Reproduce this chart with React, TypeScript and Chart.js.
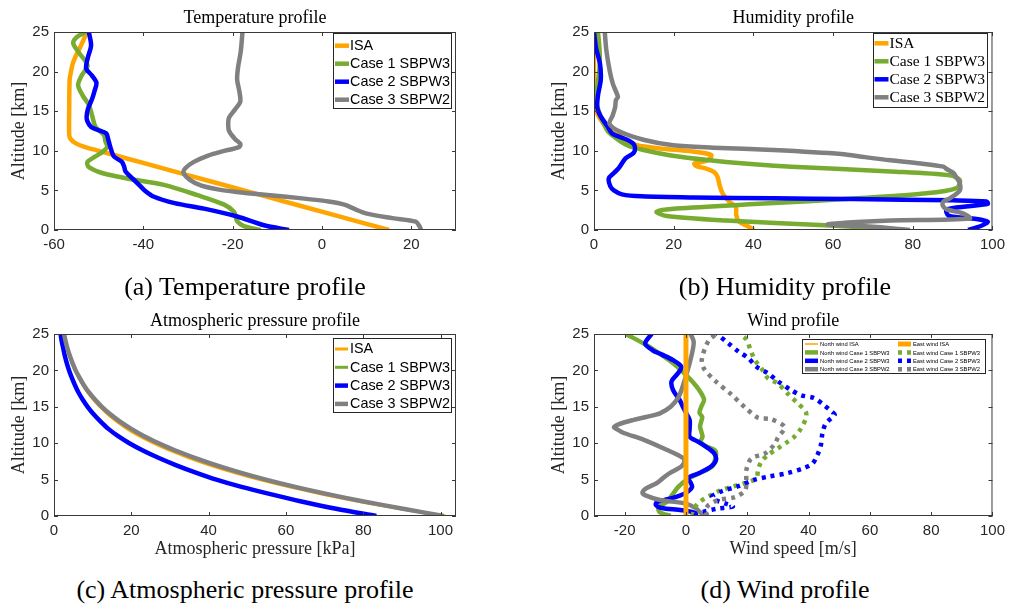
import React, { useEffect, useRef } from "react";
import { Chart, registerables } from "chart.js";

Chart.register(...registerables);

// ---------- colours / fonts ----------
const ORANGE = "#FFA500";
const GREEN = "#77AC30";
const BLUE = "#0000FF";
const GRAY = "#808080";
const AXIS_C = "#262626";
const SERIF = "'Liberation Serif', 'Times New Roman', serif";
const SANS = "'Liberation Sans', Arial, sans-serif";

// ---------- tick labels ----------
const altTicks = [0, 5, 10, 15, 20, 25];
const tempTicks = [-60, -40, -20, 0, 20];
const humTicks = [0, 20, 40, 60, 80, 100];
const presTicks = [0, 20, 40, 60, 80, 100];
const windTicks = [-20, 0, 20, 40, 60, 80, 100];

// ---------- (a) temperature [°C] vs altitude [km] ----------
const tempAltISA = [0, 2, 4, 6, 8, 9, 10, 10.5, 11, 11.5, 12, 15, 19, 20, 21, 22, 23, 24, 25];
const tempISA = [15, 2, -11, -24, -37, -43.5, -50, -53.2, -55.3, -56.3, -56.6, -56.6, -56.5, -56.2, -55.8, -55.1, -54.2, -53.4, -52.6];
const tempAlt1 = [0, 0.5, 1.1, 1.7, 2.3, 3.2, 4.4, 5.7, 6.5, 7.0, 7.4, 8.0, 8.6, 9.2, 9.8, 10.5, 11.2, 12.0, 13.0, 14.3, 15.8, 17.0, 18.3, 19.5, 20.8, 22.3, 23.6, 24.4, 25];
const temp1 = [-13.7, -17.5, -19.0, -19.3, -19.7, -21.9, -27.9, -35.4, -43.6, -48.0, -50.3, -52.3, -52.5, -51.0, -49.3, -48.1, -48.5, -48.8, -50.7, -51.4, -52.2, -53.6, -54.6, -53.8, -52.5, -54.3, -55.7, -54.8, -52.9];
const tempAlt2 = [0, 0.6, 1.7, 2.7, 3.4, 4.2, 5.0, 5.9, 6.8, 7.4, 8.0, 8.6, 9.3, 10.3, 11.3, 12.2, 12.6, 13.0, 13.7, 14.3, 15.3, 16.5, 17.6, 18.6, 19.5, 20.4, 21.8, 23.3, 25];
const temp2 = [-7.4, -13.0, -19.0, -26.4, -33.0, -37.6, -39.7, -41.3, -43.0, -44.0, -44.3, -44.8, -46.6, -47.3, -47.8, -48.3, -50.0, -51.7, -52.5, -52.7, -52.4, -51.5, -50.9, -50.5, -51.5, -52.8, -52.4, -51.7, -52.2];
const tempAlt3 = [0, 0.5, 1.05, 1.5, 2.1, 2.6, 3.2, 3.6, 3.9, 4.2, 4.5, 4.8, 5.1, 5.6, 6.3, 7.2, 7.8, 8.6, 9.4, 9.9, 10.5, 10.9, 11.5, 12.5, 13.5, 14.2, 15.2, 16.2, 17.5, 19.0, 20.5, 22.5, 25];
const temp3 = [22.2, 21.8, 21.0, 15.8, 9.8, 7.5, 5.0, 1.5, -3.0, -8.0, -14.0, -19.0, -23.0, -27.0, -29.5, -31.0, -30.6, -28.7, -25.5, -22.5, -18.5, -18.3, -19.5, -20.8, -21.0, -20.8, -19.5, -18.3, -18.5, -19.0, -18.8, -18.2, -17.8];

// ---------- (b) humidity [%] ----------
const humAltISA = [0, 0.5, 1.05, 1.9, 2.9, 3.6, 4.6, 5.5, 6.7, 7.3, 7.7, 8.1, 8.4, 8.7, 9.1, 9.5, 9.9, 10.3, 10.7, 11.3, 12.0, 13.0, 14.5, 15.5, 17, 25];
const humISA = [40.1, 38.5, 36.4, 35.7, 35.6, 33.9, 32.3, 31.6, 31.0, 30.2, 28.5, 25.6, 25.2, 28.0, 29.2, 29.4, 24.8, 16.5, 10.8, 8.0, 6.4, 3.1, 1.0, 0.3, 0, 0];
const humAlt1 = [0, 0.6, 1.2, 1.77, 2.3, 2.7, 3.3, 4.0, 4.6, 5.3, 6.3, 6.9, 7.4, 8.0, 8.6, 9.3, 10.1, 10.7, 11.8, 12.6, 14.7, 16.4, 20.6, 22.7, 25];
const hum1 = [78.6, 57.9, 33.1, 18.2, 15.7, 20.7, 41.4, 66.2, 82.7, 91.0, 91.8, 89.3, 74.4, 49.6, 33.1, 20.7, 12.4, 8.3, 5.0, 3.3, 1.4, 0.6, 1.4, 1.4, 1.0];
const humAlt2 = [0, 0.6, 1.05, 1.4, 1.8, 2.6, 3.0, 3.3, 3.6, 3.75, 3.9, 4.0, 4.1, 4.25, 4.5, 5.0, 5.5, 6.5, 7.2, 7.8, 9.05, 9.7, 10.3, 10.9, 11.4, 12.2, 13.0, 14.5, 15.5, 17, 19, 21, 23, 25];
const hum2 = [93.9, 97.5, 98.8, 96.0, 89.0, 88.5, 94.0, 98.8, 98.5, 90.0, 65.0, 45.0, 25.0, 12.0, 7.0, 5.0, 4.1, 3.7, 5.0, 6.2, 7.9, 9.9, 10.3, 9.9, 8.3, 4.5, 3.5, 1.5, 0.8, 1.0, 1.7, 1.5, 0.5, 0];
const humAlt3 = [0, 0.4, 0.7, 1.0, 1.2, 1.46, 2.1, 2.6, 3.1, 3.6, 4.0, 5.0, 5.9, 6.6, 7.2, 7.7, 8.0, 8.4, 8.8, 9.2, 9.6, 10.1, 10.4, 10.7, 11.4, 12.4, 13.4, 14.5, 15.5, 16.4, 16.8, 17.5, 18.5, 20.2, 22.7, 25];
const hum3 = [79.3, 70.0, 58.7, 66.0, 74.4, 94.3, 92.6, 88.5, 87.5, 87.7, 89.3, 91.8, 91.8, 91.0, 90.2, 88.5, 87.7, 82.0, 74.4, 68.0, 62.0, 45.0, 30.0, 19.9, 12.4, 6.6, 3.9, 4.7, 5.3, 5.5, 6.0, 5.5, 4.7, 3.9, 3.1, 2.7];

// ---------- (c) pressure [kPa] ----------
const presAlt = [0, 1, 2, 3, 4, 5, 6, 7, 8, 9, 10, 11, 12, 13, 14, 15, 16, 17, 18, 19, 20, 21, 22, 23, 24, 25];
const presISA = [101.3, 89.6, 79.0, 69.5, 60.9, 53.2, 46.4, 40.3, 34.9, 30.0, 25.8, 22.1, 18.9, 16.2, 13.9, 11.9, 10.2, 8.7, 7.5, 6.4, 5.5, 4.7, 4.0, 3.4, 2.9, 2.5];
const pres1 = [100.8, 90.2, 80.0, 70.7, 62.3, 54.7, 47.9, 41.8, 36.3, 31.3, 27.0, 23.1, 19.8, 16.9, 14.4, 12.3, 10.5, 8.9, 7.6, 6.5, 5.5, 4.7, 4.0, 3.4, 2.9, 2.5];
const pres2 = [83.4, 73.0, 64.0, 56.0, 48.5, 42.0, 36.5, 31.5, 27.0, 23.0, 19.5, 16.5, 14.0, 12.0, 10.2, 8.7, 7.4, 6.3, 5.4, 4.6, 3.9, 3.3, 2.8, 2.4, 2.0, 1.7];
const pres3 = [100.8, 90.3, 80.1, 70.8, 62.4, 54.8, 48.0, 41.9, 36.4, 31.4, 27.1, 23.2, 19.9, 17.0, 14.5, 12.4, 10.6, 9.0, 7.7, 6.6, 5.6, 4.8, 4.1, 3.5, 3.0, 2.6];

// ---------- (d) wind [m/s] ----------
const windAltISA = [0, 25];
const windNorthISA = [0, 0];
const windEastISA = [0, 0];
const windAltN1 = [0, 0.5, 1.0, 1.5, 2.0, 2.9, 4.0, 5.0, 5.9, 6.8, 7.8, 8.9, 9.6, 10.2, 10.9, 11.6, 12.3, 13.0, 13.6, 14.2, 15.0, 16.0, 17.3, 18.5, 20.0, 21.0, 22.0, 23.5, 25];
const windN1 = [-5.0, -8.5, -9.0, -8.0, -6.0, -4.5, -2.5, 0.3, 4.5, 8.5, 9.5, 9.7, 6.5, 4.8, 5.4, 5.0, 4.6, 5.0, 5.3, 4.4, 5.0, 5.9, 4.3, 2.0, -1.5, -4.2, -7.5, -13.0, -19.6];
const windAltN2 = [0, 0.4, 0.8, 1.1, 1.5, 1.9, 2.3, 2.8, 3.4, 4.0, 4.6, 5.2, 5.9, 6.8, 7.7, 8.6, 9.5, 10.2, 10.9, 12.0, 13.2, 14.1, 15.0, 15.9, 17.3, 18.5, 19.6, 20.5, 21.4, 22.2, 22.8, 23.7, 25];
const windN2 = [2.5, 3.0, -1.3, -8.0, -9.8, -9.5, -6.0, -2.0, 0.8, 2.0, 1.5, 0.6, 4.4, 8.2, 9.8, 9.2, 6.6, 4.0, 1.2, 1.2, 1.2, 0.1, -1.0, -2.0, -4.2, -4.7, -2.6, -1.5, -4.2, -8.0, -11.0, -13.3, -11.2];
const windAltN3 = [0, 0.6, 1.05, 1.7, 2.2, 2.8, 3.2, 3.8, 4.5, 5.2, 5.9, 6.8, 7.5, 8.0, 9.1, 10.5, 11.4, 11.8, 12.2, 12.6, 13.2, 13.6, 14.1, 15.0, 16.2, 17.5, 18.7, 21.0, 23.0, 24.0, 25];
const windN3 = [6.0, 4.4, 3.3, 0, -8.5, -13.0, -14.2, -13.0, -9.6, -7.5, -5.3, -1.5, -0.5, -1.0, -6.3, -13.9, -20.3, -22.0, -23.5, -22.0, -17.1, -13.0, -8.5, -5.0, -2.6, -1.3, -0.4, 1.2, 2.3, 2.5, 1.5];
const windAltE1 = [0, 0.6, 1.3, 2.0, 2.7, 3.4, 4.0, 4.5, 5.2, 6.3, 7.5, 8.4, 9.3, 10.2, 10.9, 12.0, 13.4, 14.3, 15.5, 16.8, 18.2, 18.9, 20.3, 21.4, 23.0, 24.2, 25];
const windE1 = [2.0, 2.6, 3.1, 4.7, 7.4, 10.6, 14.9, 19.2, 23.0, 23.5, 24.6, 26.8, 30.0, 33.2, 35.4, 37.5, 39.1, 39.1, 36.4, 33.2, 30.0, 26.8, 24.6, 22.5, 20.9, 19.8, 17.6];
const windAltE2 = [0, 0.3, 0.6, 1.0, 1.3, 1.7, 2.2, 2.7, 3.4, 4.1, 5.0, 5.4, 5.9, 6.6, 7.2, 8.4, 9.7, 11.3, 12.7, 13.9, 14.3, 15.2, 16.2, 16.6, 17.3, 18.5, 19.6, 20.5, 21.7, 22.6, 23.7, 25];
const windE2 = [3.0, 3.5, 5.8, 10.0, 15.3, 13.0, 9.5, 8.5, 11.7, 17.1, 22.5, 26.8, 33.2, 38.6, 41.3, 42.9, 44.0, 44.5, 45.6, 48.5, 47.7, 45.1, 41.8, 37.5, 34.3, 30.0, 26.8, 23.0, 20.3, 17.1, 13.9, 10.1];
const windAltE3 = [0, 0.8, 1.5, 2.2, 2.6, 3.5, 4.7, 6.3, 7.9, 8.6, 9.9, 10.8, 12.2, 13.3, 13.5, 14.9, 16.7, 18.5, 20.3, 21.6, 24.1, 25];
const windE3 = [7.0, 6.4, 7.4, 10.6, 16.0, 19.3, 19.7, 19.7, 21.3, 25.8, 29.0, 30.0, 32.2, 27.7, 23.5, 19.3, 14.8, 9.7, 5.8, 5.2, 7.4, 10.0];

// ---------- types ----------
type Series = { label: string; alt: number[]; val: number[]; color: string; width: number; dash?: number[] };
type LegendSpec = {
  dxRight: number; dyTop: number; w: number; h: number; row0: number; rowStep: number;
  cols: number; colStep: number; sampleX: number; sampleW: number; textX: number; font: string;
};
type PanelSpec = {
  left: number; top: number; w: number; h: number;
  padLeft: number; padRight: number; padBottom: number; xHeight: number;
  title: string; titlePadTop: number; titlePadBottom: number;
  xTitle?: string; xTitlePadBottom?: number;
  xMin: number; xMax: number; xTicks: number[];
  series: Series[]; legend: LegendSpec;
};

function drawFrame(chart: any) {
  const { ctx, chartArea } = chart;
  const { left, top, right, bottom } = chartArea;
  const xs = chart.scales.x;
  const ys = chart.scales.y;
  ctx.save();
  ctx.strokeStyle = "#3a3a3a";
  ctx.lineWidth = 1;
  ctx.strokeRect(left + 0.5, top + 0.5, right - left - 1, bottom - top - 1);
  const tl = 4;
  ctx.beginPath();
  xs.ticks.forEach((t: any) => {
    const px = Math.round(xs.getPixelForValue(t.value)) + 0.5;
    ctx.moveTo(px, bottom);
    ctx.lineTo(px, bottom - tl);
    ctx.moveTo(px, top);
    ctx.lineTo(px, top + tl);
  });
  ys.ticks.forEach((t: any) => {
    const py = Math.round(ys.getPixelForValue(t.value)) + 0.5;
    ctx.moveTo(left, py);
    ctx.lineTo(left + tl, py);
    ctx.moveTo(right, py);
    ctx.lineTo(right - tl, py);
  });
  ctx.stroke();
  ctx.restore();
}

function drawLegend(chart: any, p: PanelSpec) {
  const { ctx, chartArea } = chart;
  const L = p.legend;
  const bx = Math.round(chartArea.right - L.dxRight - L.w);
  const by = Math.round(chartArea.top + L.dyTop);
  ctx.save();
  ctx.fillStyle = "#ffffff";
  ctx.fillRect(bx, by, L.w, L.h);
  ctx.strokeStyle = AXIS_C;
  ctx.lineWidth = 1;
  ctx.strokeRect(bx + 0.5, by + 0.5, L.w - 1, L.h - 1);
  const rows = Math.ceil(p.series.length / L.cols);
  p.series.forEach((s, i) => {
    const col = Math.floor(i / rows);
    const row = i % rows;
    const cy = by + L.row0 + row * L.rowStep;
    const x0 = bx + L.sampleX + col * L.colStep;
    ctx.beginPath();
    ctx.strokeStyle = s.color;
    ctx.lineWidth = s.width;
    ctx.lineCap = "butt";
    ctx.setLineDash(s.dash || []);
    ctx.moveTo(x0, cy);
    ctx.lineTo(x0 + L.sampleW, cy);
    ctx.stroke();
    ctx.setLineDash([]);
    ctx.fillStyle = "#000000";
    ctx.font = L.font;
    ctx.textAlign = "left";
    ctx.textBaseline = "middle";
    ctx.fillText(s.label, bx + L.textX + col * L.colStep, cy + 0.5);
  });
  ctx.restore();
}

function buildConfig(p: PanelSpec): any {
  const plugin = {
    id: "matlabLook",
    afterDatasetsDraw(chart: any) {
      drawFrame(chart);
    },
    afterDraw(chart: any) {
      drawLegend(chart, p);
    },
  };
  return {
    type: "scatter",
    data: {
      datasets: p.series.map((s, i) => ({
        label: s.label,
        data: s.alt.map((a, k) => ({ x: s.val[k], y: a })),
        showLine: true,
        borderColor: s.color,
        backgroundColor: s.color,
        borderWidth: s.width,
        borderDash: s.dash || [],
        borderCapStyle: "butt",
        borderJoinStyle: "round",
        pointRadius: 0,
        pointHoverRadius: 0,
        pointHitRadius: 0,
        tension: 0.3,
        clip: 0,
        order: -i,
      })),
    },
    options: {
      responsive: false,
      animation: false,
      devicePixelRatio: 1,
      events: [],
      layout: {
        autoPadding: false,
        padding: { left: p.padLeft, right: p.padRight, top: 0, bottom: p.padBottom },
      },
      plugins: {
        legend: { display: false },
        tooltip: { enabled: false },
        title: {
          display: true,
          text: p.title,
          fullSize: false,
          color: "#000000",
          font: { family: SERIF, size: 18, weight: "normal" },
          padding: { top: p.titlePadTop, bottom: p.titlePadBottom },
        },
      },
      scales: {
        x: {
          type: "linear",
          position: "bottom",
          min: p.xMin,
          max: p.xMax,
          grid: { display: false, drawTicks: false },
          border: { display: false },
          ticks: {
            padding: 6,
            color: AXIS_C,
            font: { family: SANS, size: 15 },
            maxRotation: 0,
            autoSkip: false,
            callback: (v: any) => String(v),
          },
          afterBuildTicks: (sc: any) => {
            sc.ticks = p.xTicks.map((v) => ({ value: v }));
          },
          afterFit: (sc: any) => {
            sc.height = p.xHeight;
          },
          title: p.xTitle
            ? {
                display: true,
                text: p.xTitle,
                color: AXIS_C,
                font: { family: SERIF, size: 18 },
                padding: { top: 0, bottom: p.xTitlePadBottom || 0 },
              }
            : { display: false },
        },
        y: {
          type: "linear",
          position: "left",
          min: 0,
          max: 25,
          grid: { display: false, drawTicks: false },
          border: { display: false },
          ticks: {
            padding: 5,
            color: AXIS_C,
            font: { family: SANS, size: 15 },
            autoSkip: false,
            callback: (v: any) => String(v),
          },
          afterBuildTicks: (sc: any) => {
            sc.ticks = altTicks.map((v) => ({ value: v }));
          },
          afterFit: (sc: any) => {
            sc.width = 54;
          },
          title: {
            display: true,
            text: "Altitude [km]",
            color: AXIS_C,
            font: { family: SERIF, size: 18 },
            padding: { top: 8.7, bottom: 0 },
          },
        },
      },
    },
    plugins: [plugin],
  };
}

// ---------- panels ----------
const legendTop: LegendSpec = {
  dxRight: 4, dyTop: 1, w: 119, h: 76, row0: 12.7, rowStep: 18, cols: 1, colStep: 0,
  sampleX: 2, sampleW: 14, textX: 17, font: `14.4px ${SANS}`,
};

const panelA: PanelSpec = {
  left: 0, top: 0, w: 490, h: 262, padLeft: 0, padRight: 34, padBottom: 6, xHeight: 26,
  title: "Temperature profile", titlePadTop: 7, titlePadBottom: 3.4,
  xMin: -60, xMax: 30, xTicks: tempTicks,
  series: [
    { label: "ISA", alt: tempAltISA, val: tempISA, color: ORANGE, width: 4.5 },
    { label: "Case 1 SBPW3", alt: tempAlt1, val: temp1, color: GREEN, width: 4.5 },
    { label: "Case 2 SBPW3", alt: tempAlt2, val: temp2, color: BLUE, width: 4.5 },
    { label: "Case 3 SBPW2", alt: tempAlt3, val: temp3, color: GRAY, width: 4.5 },
  ],
  legend: legendTop,
};

const panelB: PanelSpec = {
  left: 500, top: 0, w: 511, h: 262, padLeft: 40, padRight: 14, padBottom: 6, xHeight: 26,
  title: "Humidity profile", titlePadTop: 7, titlePadBottom: 3.4,
  xMin: 0, xMax: 100, xTicks: humTicks,
  series: [
    { label: "ISA", alt: humAltISA, val: humISA, color: ORANGE, width: 4.5 },
    { label: "Case 1 SBPW3", alt: humAlt1, val: hum1, color: GREEN, width: 4.5 },
    { label: "Case 2 SBPW3", alt: humAlt2, val: hum2, color: BLUE, width: 4.5 },
    { label: "Case 3 SBPW2", alt: humAlt3, val: hum3, color: GRAY, width: 4.5 },
  ],
  legend: {
    dxRight: 4, dyTop: 1, w: 115, h: 75, row0: 10.3, rowStep: 18, cols: 1, colStep: 0,
    sampleX: 1.5, sampleW: 14, textX: 16.5, font: `15.5px ${SERIF}`,
  },
};

const panelC: PanelSpec = {
  left: 0, top: 300, w: 490, h: 265, padLeft: 0, padRight: 34, padBottom: 4, xHeight: 45,
  title: "Atmospheric pressure profile", titlePadTop: 10.2, titlePadBottom: 2.2,
  xTitle: "Atmospheric pressure [kPa]", xTitlePadBottom: 1.2,
  xMin: 0, xMax: 104, xTicks: presTicks,
  series: [
    { label: "ISA", alt: presAlt, val: presISA, color: ORANGE, width: 3 },
    { label: "Case 1 SBPW3", alt: presAlt, val: pres1, color: GREEN, width: 3 },
    { label: "Case 2 SBPW3", alt: presAlt, val: pres2, color: BLUE, width: 4.5 },
    { label: "Case 3 SBPW2", alt: presAlt, val: pres3, color: GRAY, width: 4.5 },
  ],
  legend: { ...legendTop, dyTop: 4, h: 75, row0: 11, rowStep: 18.3, sampleW: 13 },
};

const panelD: PanelSpec = {
  left: 500, top: 300, w: 511, h: 265, padLeft: 40, padRight: 14, padBottom: 4, xHeight: 45,
  title: "Wind profile", titlePadTop: 10.2, titlePadBottom: 2.2,
  xTitle: "Wind speed [m/s]", xTitlePadBottom: 1.2,
  xMin: -30, xMax: 100, xTicks: windTicks,
  series: [
    { label: "North wind ISA", alt: windAltISA, val: windNorthISA, color: ORANGE, width: 1.5 },
    { label: "North wind Case 1 SBPW3", alt: windAltN1, val: windN1, color: GREEN, width: 4.5 },
    { label: "North wind Case 2 SBPW3", alt: windAltN2, val: windN2, color: BLUE, width: 4.5 },
    { label: "North wind Case 3 SBPW2", alt: windAltN3, val: windN3, color: GRAY, width: 4.5 },
    { label: "East wind ISA", alt: windAltISA, val: windEastISA, color: ORANGE, width: 5 },
    { label: "East wind Case 1 SBPW3", alt: windAltE1, val: windE1, color: GREEN, width: 4.5, dash: [4, 5] },
    { label: "East wind Case 2 SBPW3", alt: windAltE2, val: windE2, color: BLUE, width: 4.5, dash: [4, 5] },
    { label: "East wind Case 3 SBPW2", alt: windAltE3, val: windE3, color: GRAY, width: 4.5, dash: [4, 5] },
  ],
  legend: {
    dxRight: 6, dyTop: 5, w: 184, h: 35, row0: 5, rowStep: 8.4, cols: 2, colStep: 93,
    sampleX: 3, sampleW: 13, textX: 18, font: `5.8px ${SANS}`,
  },
};

function Panel({ spec }: { spec: PanelSpec }) {
  const ref = useRef<HTMLCanvasElement | null>(null);
  useEffect(() => {
    if (!ref.current) return;
    const chart = new Chart(ref.current, buildConfig(spec));
    return () => chart.destroy();
  }, [spec]);
  return (
    <canvas
      ref={ref}
      width={spec.w}
      height={spec.h}
      style={{ position: "absolute", left: spec.left, top: spec.top, width: spec.w, height: spec.h }}
    />
  );
}

const captionStyle: React.CSSProperties = {
  position: "absolute",
  fontFamily: SERIF,
  fontSize: 26,
  lineHeight: "30px",
  color: "#000",
  textAlign: "center",
  whiteSpace: "nowrap",
};

export default function App() {
  return (
    <div
      style={{
        position: "absolute",
        left: 0,
        top: 0,
        width: 1011,
        height: 608,
        overflow: "hidden",
        background: "#ffffff",
      }}
    >
      <Panel spec={panelA} />
      <Panel spec={panelB} />
      <Panel spec={panelC} />
      <Panel spec={panelD} />
      <div style={{ ...captionStyle, left: 0, width: 490, top: 272 }}>(a) Temperature profile</div>
      <div style={{ ...captionStyle, left: 560, width: 450, top: 272 }}>(b) Humidity profile</div>
      <div style={{ ...captionStyle, left: 0, width: 490, top: 575 }}>(c) Atmospheric pressure profile</div>
      <div style={{ ...captionStyle, left: 560, width: 450, top: 575 }}>(d) Wind profile</div>
    </div>
  );
}
